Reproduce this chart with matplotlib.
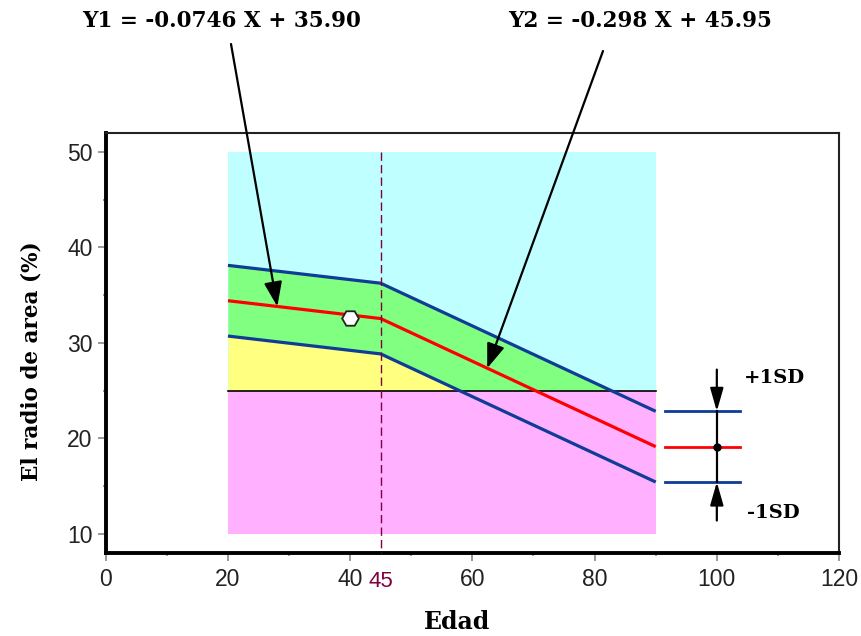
import numpy as np
import matplotlib
matplotlib.use('Agg')
import matplotlib.pyplot as plt
from matplotlib.ticker import MultipleLocator
import matplotlib.transforms as mtransforms

# ---------------- data ----------------
age_pts = [20, 45, 90]                 # break point at 45
mean_pts = [34.41, 32.54, 19.13]       # Y1 for X<45, Y2 for X>=45
upper_pts = [38.11, 36.24, 22.83]      # +1SD
lower_pts = [30.71, 28.84, 15.43]      # -1SD
zone_x = [20, 90]
zone_low, zone_cut, zone_high = 10, 25, 50
break_age = 45
patient_age = [40]
patient_val = [32.6]
eq1 = "Y1 = -0.0746 X + 35.90"
eq2 = "Y2 = -0.298 X + 45.95"
xticks = [0, 20, 40, 60, 80, 100, 120]
yticks = [10, 20, 30, 40, 50]
sd_x = [91.5, 103.8]
sd_bar_x = 100
sd_bar_top, sd_bar_bottom = 27.2, 11.4

# ---------------- style ----------------
CYAN = '#C0FFFF'
MAG = '#FFB0FF'
GREEN = '#80FF80'
YELLOW = '#FFFF80'
BLUE = '#0F3C96'
RED = '#FF0000'
MAROON = '#800040'
serif = ['DejaVu Serif', 'Liberation Serif']
sans = ['Liberation Sans', 'DejaVu Sans']

fig = plt.figure(figsize=(8.61, 6.36), dpi=100)
ax = fig.add_axes([0.1228, 0.1305, 0.8517, 0.6609])
ax.set_xlim(0, 120)
ax.set_ylim(8, 52)

# zones
ax.fill_between(zone_x, zone_cut, zone_high, color=CYAN, lw=0, zorder=1)
ax.fill_between(age_pts, lower_pts, upper_pts, color=GREEN, lw=0, zorder=2)
ax.fill_between(age_pts, zone_cut, lower_pts, color=YELLOW, lw=0, zorder=2)
ax.fill_between(zone_x, zone_low, zone_cut, color=MAG, lw=0, zorder=3)
ax.plot(zone_x, [zone_cut, zone_cut], color='black', lw=1.2, zorder=4)

# lines
ax.plot(age_pts, upper_pts, color=BLUE, lw=2.3, zorder=5, solid_capstyle='butt')
ax.plot(age_pts, lower_pts, color=BLUE, lw=2.3, zorder=5, solid_capstyle='butt')
ax.plot(age_pts, mean_pts, color=RED, lw=2.3, zorder=5, solid_capstyle='butt')

# vertical dashed line at break age
ax.plot([break_age, break_age], [zone_high, 8], color=MAROON, lw=1.0,
        dashes=(6, 3), zorder=6, clip_on=False)

# patient point
ax.plot(patient_age, patient_val, marker='H', markersize=12, markerfacecolor='white',
        markeredgecolor='#222222', markeredgewidth=1.3, linestyle='none', zorder=7)

# SD legend at right
ax.plot(sd_x, [upper_pts[-1]] * 2, color=BLUE, lw=2.0, zorder=5)
ax.plot(sd_x, [mean_pts[-1]] * 2, color=RED, lw=2.0, zorder=5)
ax.plot(sd_x, [lower_pts[-1]] * 2, color=BLUE, lw=2.0, zorder=5)
ax.plot([sd_bar_x, sd_bar_x], [upper_pts[-1], lower_pts[-1]], color='black', lw=1.6, zorder=6)
ax.plot([sd_bar_x], [mean_pts[-1]], marker='o', markersize=5, color='black', zorder=7)
sd_arrow = dict(arrowstyle='-|>,head_length=1.4,head_width=0.4', color='black', lw=1.6,
                shrinkA=0, shrinkB=0, mutation_scale=10)
ax.annotate('', xy=(sd_bar_x, upper_pts[-1]), xytext=(sd_bar_x, sd_bar_top),
            arrowprops=sd_arrow, zorder=7)
ax.annotate('', xy=(sd_bar_x, lower_pts[-1]), xytext=(sd_bar_x, sd_bar_bottom),
            arrowprops=sd_arrow, zorder=7)
ax.text(104.4, 26.3, '+1SD', fontsize=14, fontweight='bold', family=serif,
        ha='left', va='center')
ax.text(104.9, 12.2, '-1SD', fontsize=14, fontweight='bold', family=serif,
        ha='left', va='center')

# equation annotations
fig.text(222 / 861, 1 - 21 / 636, eq1, fontsize=15.5, fontweight='bold', family=serif,
         ha='center', va='center')
fig.text(640 / 861, 1 - 21 / 636, eq2, fontsize=15.5, fontweight='bold', family=serif,
         ha='center', va='center')
eq_arrow = dict(arrowstyle='-|>,head_length=1.5,head_width=0.55', color='black', lw=1.6,
                shrinkA=0, shrinkB=0, mutation_scale=10)
ax.annotate('', xy=(28.08, 35.90 - 0.0746 * 28.08), xycoords='data',
            xytext=(231, 636 - 44), textcoords='figure pixels',
            arrowprops=eq_arrow, zorder=8, annotation_clip=False)
ax.annotate('', xy=(62.43, 45.95 - 0.298 * 62.43), xycoords='data',
            xytext=(603, 636 - 51), textcoords='figure pixels',
            arrowprops=eq_arrow, zorder=8, annotation_clip=False)

# axes styling
for side in ['left', 'bottom']:
    ax.spines[side].set_linewidth(2.8)
for side in ['top', 'right']:
    ax.spines[side].set_linewidth(1.5)
    ax.spines[side].set_color('#222222')

ax.set_xticks(xticks)
ax.set_yticks(yticks)
ax.xaxis.set_minor_locator(MultipleLocator(10))
ax.yaxis.set_minor_locator(MultipleLocator(5))
ax.tick_params(which='major', direction='out', length=5.5, width=1.2, color='#888888',
               labelsize=16.5, labelcolor='#222222')
ax.tick_params(axis='x', which='major', pad=5)
ax.tick_params(axis='y', which='major', pad=4)
ax.tick_params(which='minor', direction='out', length=2.5, width=1.2, color='#888888')
for lab in ax.get_xticklabels() + ax.get_yticklabels():
    lab.set_family(sans)

# special "45" tick label
trans = mtransforms.blended_transform_factory(ax.transData, ax.transAxes)
ax.text(break_age, -0.042, str(break_age), transform=trans, color=MAROON, fontsize=16,
        family=sans, ha='center', va='top')

ax.set_xlabel('Edad', fontsize=17, fontweight='bold', family=serif)
ax.xaxis.set_label_coords((457 - 105.7) / 733.3, (553 - 610) / 420.3)
ax.set_ylabel('El radio de area (%)', fontsize=15.5, fontweight='bold', family=serif)
ax.yaxis.set_label_coords((42 - 105.7) / 733.3, (553 - 361) / 420.3)

fig.savefig('out.png', dpi=100)
